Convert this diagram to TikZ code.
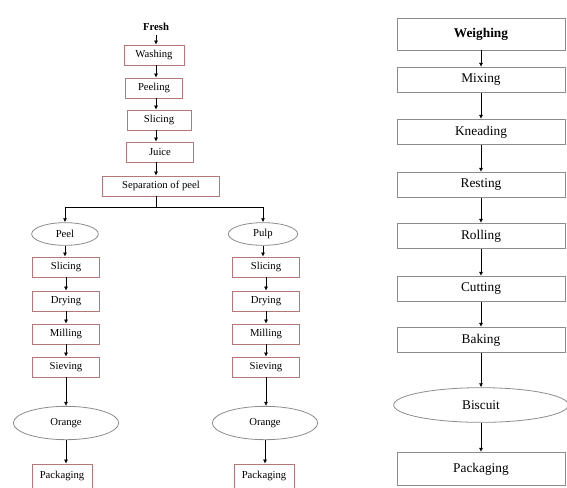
\documentclass[tikz,border=0pt]{standalone}
\usepackage{fontspec}
\setmainfont{Liberation Serif}
\usetikzlibrary{shapes.geometric,arrows.meta}

\definecolor{pinkline}{RGB}{180,120,120}
\definecolor{greyline}{RGB}{140,140,140}

\tikzset{
    lbox/.style={draw=pinkline, line width=0.6pt, inner sep=1pt, minimum height=15pt, font=\footnotesize},
    rbox/.style={draw=greyline, line width=0.7pt, minimum width=126pt, minimum height=19pt, font=\normalsize},
    oval/.style={draw=greyline, ellipse, line width=0.6pt, inner sep=0pt},
    arr/.style={-{Latex[length=3pt,width=3pt]}, line width=0.5pt}
}

\begin{document}
\begin{tikzpicture}[x=0.75pt, y=-0.75pt]
\useasboundingbox (0,0) rectangle (567,487);

% Orange processing
\node[font=\footnotesize\bfseries] (Fresh) at (156,27) {Fresh};
\node[lbox, minimum width=45pt] (Wash) at (154,55) {Washing};
\node[lbox, minimum width=43pt] (Peel1) at (154,88) {Peeling};
\node[lbox, minimum width=48pt] (Slice1) at (159,120) {Slicing};
\node[lbox, minimum width=50pt] (Juice) at (160,152) {Juice};
\node[lbox, minimum width=88pt] (Sep) at (161,186) {Separation of peel};
\foreach \a/\b in {Fresh/Wash, Wash/Peel1, Peel1/Slice1, Slice1/Juice, Juice/Sep}
    \draw[arr] (\a.south -| Fresh) -- (Fresh |- \b.north);
\draw (Sep.south -| Fresh) -- ++(0,11) coordinate (split);

% peel branch
\node[oval, minimum width=50pt, minimum height=17pt, font=\footnotesize] (PeelE) at (65,234) {Peel};
\node[lbox, minimum width=50pt] (SliceA) at (66,267) {Slicing};
\node[lbox, minimum width=50pt] (DryA) at (66,301) {Drying};
\node[lbox, minimum width=50pt] (MillA) at (66,334) {Milling};
\node[lbox, minimum width=50pt] (SieveA) at (66,367) {Sieving};
\node[oval, minimum width=79pt, minimum height=25pt, font=\footnotesize] (OrangeA) at (66,423) {Orange};
\node[lbox, minimum width=45pt, minimum height=18pt] (PackA) at (62,476) {Packaging};

% pulp branch
\node[oval, minimum width=52pt, minimum height=17pt, font=\footnotesize] (PulpE) at (263,234) {Pulp};
\node[lbox, minimum width=50pt] (SliceB) at (266,267) {Slicing};
\node[lbox, minimum width=50pt] (DryB) at (266,301) {Drying};
\node[lbox, minimum width=50pt] (MillB) at (266,334) {Milling};
\node[lbox, minimum width=50pt] (SieveB) at (266,367) {Sieving};
\node[oval, minimum width=79pt, minimum height=25pt, font=\footnotesize] (OrangeB) at (265,423) {Orange};
\node[lbox, minimum width=45pt, minimum height=18pt] (PackB) at (264,476) {Packaging};

\draw[arr] (split) -| (PeelE);
\draw[arr] (split) -| (PulpE);
\foreach \a/\b in {PeelE/SliceA, SliceA/DryA, DryA/MillA, MillA/SieveA, SieveA/OrangeA, OrangeA/PackA,
                   PulpE/SliceB, SliceB/DryB, DryB/MillB, MillB/SieveB, SieveB/OrangeB, OrangeB/PackB}
    \draw[arr] (\a) -- (\a |- \b.north);

% Biscuit making
\node[rbox, minimum height=24pt, font=\normalsize\bfseries] (Weigh) at (481,34) {Weighing};
\node[rbox] (Mix) at (481,80) {Mixing};
\node[rbox] (Knead) at (481,132) {Kneading};
\node[rbox] (Rest) at (481,185) {Resting};
\node[rbox] (Roll) at (481,236) {Rolling};
\node[rbox] (Cut) at (481,289) {Cutting};
\node[rbox] (Bake) at (481,340) {Baking};
\node[oval, minimum width=131pt, minimum height=26pt, font=\normalsize] (Bisc) at (481,405) {Biscuit};
\node[rbox, minimum height=25pt] (PackC) at (481,469) {Packaging};
\foreach \a/\b in {Weigh/Mix, Mix/Knead, Knead/Rest, Rest/Roll, Roll/Cut, Cut/Bake, Bake/Bisc, Bisc/PackC}
    \draw[arr] (\a) -- (\b);
\end{tikzpicture}
\end{document}
